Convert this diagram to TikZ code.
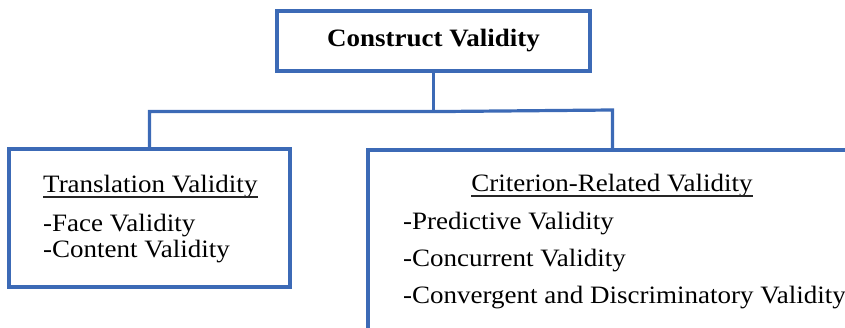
\documentclass[tikz,border=0pt]{standalone}
\usepackage{fontspec}
\setmainfont{Liberation Serif}[FakeStretch=1.08]
\definecolor{vblue}{RGB}{60,106,182}
\begin{document}
\begin{tikzpicture}[x=1pt,y=-1pt,
  box/.style={draw=vblue, line width=3.2pt, rectangle, inner sep=0pt, fill=white},
  link/.style={draw=vblue, line width=3.2pt},
  lbl/.style={inner sep=0pt, font=\fontsize{25}{30}\selectfont},
  item/.style={lbl, anchor=base west},
  uline/.style={line width=1.1pt, black!85},
]
\useasboundingbox (0,0) rectangle (845,328);
\clip (0,0) rectangle (845,328);

% boxes
\node[box, minimum width=313pt, minimum height=60pt, font=\fontsize{25}{30}\selectfont\bfseries]
  (cv) at (433.5,41) {Construct Validity};
\node[box, minimum width=281pt, minimum height=138pt] (tv) at (149.5,218) {};
\node[box, minimum width=512pt, minimum height=210pt] (crv) at (624,255) {};

% connectors
\draw[link] (cv.south) -- ++(0,39) coordinate (hub);
\coordinate (rdrop) at (612.5,110);
\draw[link] (tv.north) |- (hub) -- (rdrop) -- (rdrop |- crv.north);

% translation validity
\node[item] (tvh) at (43,193) {Translation Validity};
\draw[uline] ([yshift=-4pt]tvh.base west) -- ([yshift=-4pt]tvh.base east);
\node[item] (tv1) at (43,232) {-Face Validity};
\node[item] (tv2) at (43,258) {-Content Validity};

% criterion-related validity
\node[lbl, anchor=base] (crh) at (612,192) {Criterion-Related Validity};
\draw[uline] ([yshift=-4pt]crh.base west) -- ([yshift=-4pt]crh.base east);
\node[item] (cr1) at (403,230) {-Predictive Validity};
\node[item] (cr2) at (403,267) {-Concurrent Validity};
\node[item] (cr3) at (403,303) {-Convergent and Discriminatory Validity};
\end{tikzpicture}
\end{document}
